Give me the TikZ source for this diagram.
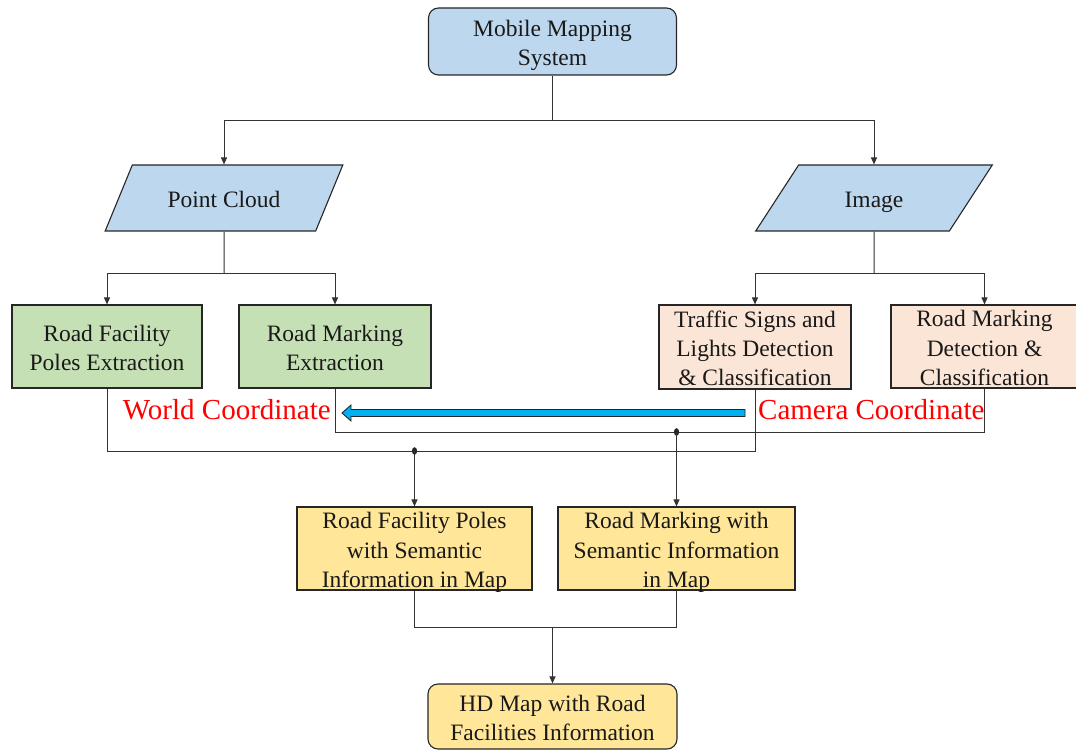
\documentclass[tikz,border=0pt]{standalone}
\usepackage{fontspec}
\setmainfont{Liberation Serif}
\usetikzlibrary{shapes.geometric,arrows.meta}
\definecolor{boxblue}{HTML}{BDD7EE}
\definecolor{boxgreen}{HTML}{C5E0B4}
\definecolor{boxpeach}{HTML}{FBE5D6}
\definecolor{boxyellow}{HTML}{FFE699}
\definecolor{arrowcyan}{HTML}{00B0F0}
\begin{document}
\begin{tikzpicture}[x=1pt,y=-1pt,
  base/.style={draw=black!85, line width=1.1pt, align=center,
    inner xsep=0pt, inner ysep=-4pt,
    text=black!90, font=\fontsize{23.5}{29.3}\selectfont,
    execute at end node={\rule[-6pt]{0pt}{6pt}}},
  % fixed text box height so that the lines sit alike in every box
  lines/.style={execute at begin node={\rule{0pt}{\dimexpr 25pt+#1\dimexpr 29.3pt\relax\relax}}},
  roundbox/.style={base, rounded corners=10pt},
  databox/.style={base, lines=0, trapezium, trapezium left angle=54,
    trapezium right angle=126, trapezium stretches=true, fill=boxblue,
    minimum width=238pt, minimum height=66pt},
  conn/.style={draw=black!80, line width=1pt},
  arr/.style={conn, -{Triangle[length=7pt,width=6pt]}},
  junction/.style={fill=black!85},
  coordlabel/.style={text=red, inner sep=0pt, font=\fontsize{29}{34}\selectfont},
  fatarrow/.style={draw=black!85, line width=0.9pt, fill=arrowcyan, line join=miter}]

\useasboundingbox (0,0) rectangle (1076,751);

% source and data types
\node[roundbox, lines=1, fill=boxblue, minimum width=248pt, minimum height=67pt] (mms) at (552.5,41.5) {Mobile Mapping\\System};
\node[databox] (pc) at (224,198) {Point Cloud};
\node[databox] (img) at (874,198) {Image};

% processing steps
\node[base, lines=1, fill=boxgreen, minimum width=190pt, minimum height=83pt] (e1) at (107,346.5) {Road Facility\\Poles Extraction};
\node[base, lines=1, fill=boxgreen, minimum width=192pt, minimum height=83pt] (e2) at (335,346.5) {Road Marking\\Extraction};
\node[base, lines=2, fill=boxpeach, minimum width=192pt, minimum height=84pt] (d1) at (755,347) {Traffic Signs and\\Lights Detection\\\& Classification};
\node[base, lines=2, fill=boxpeach, minimum width=187pt, minimum height=83pt] (d2) at (984.5,346.5) {Road Marking\\Detection \&\\Classification};

% results
\node[base, lines=2, fill=boxyellow, minimum width=235pt, minimum height=83pt] (s1) at (414.5,548.5) {Road Facility Poles\\with Semantic\\Information in Map};
\node[base, lines=2, fill=boxyellow, minimum width=237pt, minimum height=83pt] (s2) at (676.5,548.5) {Road Marking with\\Semantic Information\\in Map};
\node[roundbox, lines=1, fill=boxyellow, minimum width=249pt, minimum height=65pt] (hd) at (552.5,716.5) {HD Map with Road\\Facilities Information};

% coordinate system labels
\node[coordlabel, anchor=east] (world) at (331,409.5) {World Coordinate};
\node[coordlabel, anchor=west] (camera) at (758,409.5) {Camera Coordinate};

% branch to the two data types
\coordinate (j0) at (552.5,121);
\draw[conn] (mms.south) -- (j0);
\draw[arr] (j0) -| (pc.north);
\draw[arr] (j0) -| (img.north);

% point cloud branches
\coordinate (j1) at (224,274);
\draw[conn] (pc.south) -- (j1);
\draw[arr] (j1) -| (e1.north);
\draw[arr] (j1) -| (e2.north);

% image branches
\coordinate (j2) at (874,274);
\draw[conn] (img.south) -- (j2);
\draw[arr] (j2) -| (d1.north);
\draw[arr] (j2) -| (d2.north);

% merge of pole and sign results
\draw[conn] (e1.south) -- ++(0,63) -| (d1.south);
\coordinate (ja) at (414.5,451);
\fill[junction] (ja) ellipse [x radius=2.6pt, y radius=3.8pt];
\draw[arr] (ja) -- (s1.north);

% merge of road marking results
\draw[conn] (e2.south) -- ++(0,44) -| (d2.south);
\coordinate (jb) at (676.5,432);
\fill[junction] (jb) ellipse [x radius=2.6pt, y radius=3.8pt];
\draw[arr] (jb) -- (s2.north);

% final merge
\draw[conn] (s1.south) -- ++(0,37) -| (s2.south);
\coordinate (jc) at (552.5,627);
\draw[arr] (jc) -- (hd.north);

% camera to world transformation arrow
\coordinate (at) at (745,413);
\draw[fatarrow] (at) ++(0,-3.5) -- ++(-394,0) -- ++(0,-4.5) -- ++(-9,8) -- ++(9,8) -- ++(0,-4.5) -- ++(394,0) -- cycle;

\end{tikzpicture}
\end{document}
